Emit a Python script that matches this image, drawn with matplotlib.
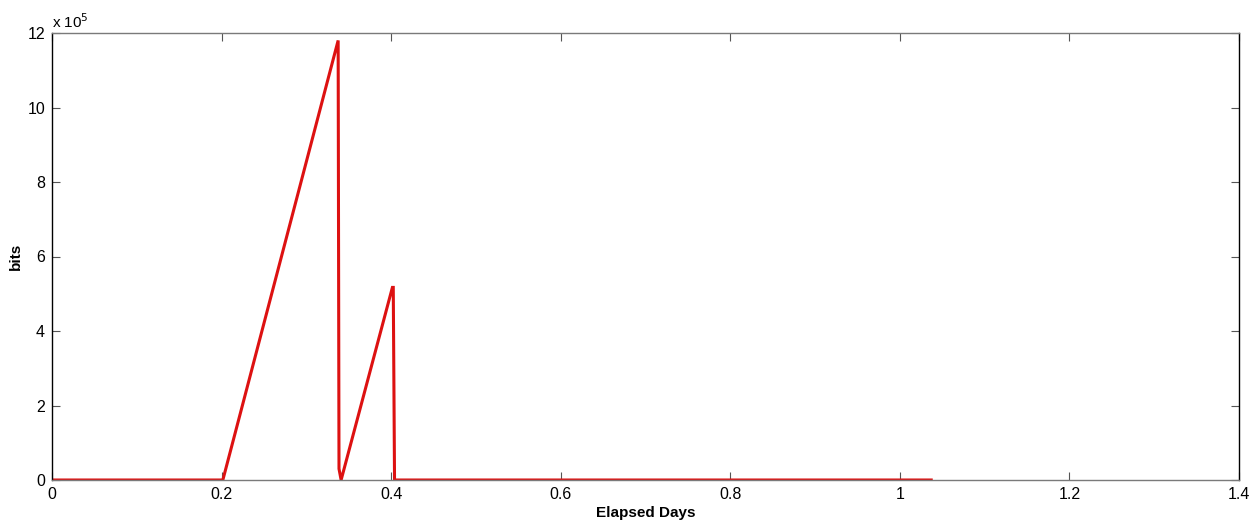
import matplotlib
matplotlib.use("Agg")
import matplotlib.pyplot as plt
from matplotlib.ticker import FuncFormatter

plt.rcParams['font.family'] = ['Liberation Sans', 'DejaVu Sans']

# Buffer occupancy over elapsed time
elapsed_days = [0.0, 0.2015, 0.3375, 0.3385, 0.341, 0.4015, 0.4025, 0.404, 1.037]
bits = [0.0, 0.0, 11.8e5, 0.3e5, 0.0, 5.17e5, 5.17e5, 0.0, 0.0]

x_ticks = [0, 0.2, 0.4, 0.6, 0.8, 1.0, 1.2, 1.4]
x_tick_labels = ['0', '0.2', '0.4', '0.6', '0.8', '1', '1.2', '1.4']
y_ticks = [0, 2e5, 4e5, 6e5, 8e5, 10e5, 12e5]

fig = plt.figure(figsize=(12.58, 5.2), dpi=100)
ax = fig.add_axes([52 / 1258, 1 - 480 / 520, (1239 - 52) / 1258, (480 - 33) / 520])

ax.plot(elapsed_days, bits, color='#dd1111', linewidth=2.2, solid_joinstyle='miter')

ax.set_xlim(0, 1.4)
ax.set_ylim(0, 12e5)
ax.set_xticks(x_ticks)
ax.set_xticklabels(x_tick_labels)
ax.set_yticks(y_ticks)
ax.yaxis.set_major_formatter(FuncFormatter(lambda v, p: f"{v / 1e5:g}"))

ax.tick_params(direction='in', top=True, right=True, length=6, width=0.8,
               labelsize=11.5, colors='#555555', labelcolor='black', pad=5)
for s in ax.spines.values():
    s.set_color('#7a7a7a')
    s.set_linewidth(1.0)
ax.spines['left'].set_color('black')
ax.spines['right'].set_color('black')

ax.set_xlabel('Elapsed Days', fontsize=11, fontweight='bold', labelpad=3)
ax.set_ylabel('bits', fontsize=11, fontweight='bold', labelpad=3)

ax.text(0.0, 1.005, r'x 10$^{5}$', transform=ax.transAxes, fontsize=11,
        ha='left', va='bottom')

fig.savefig('out.png', dpi=100, facecolor='white')
